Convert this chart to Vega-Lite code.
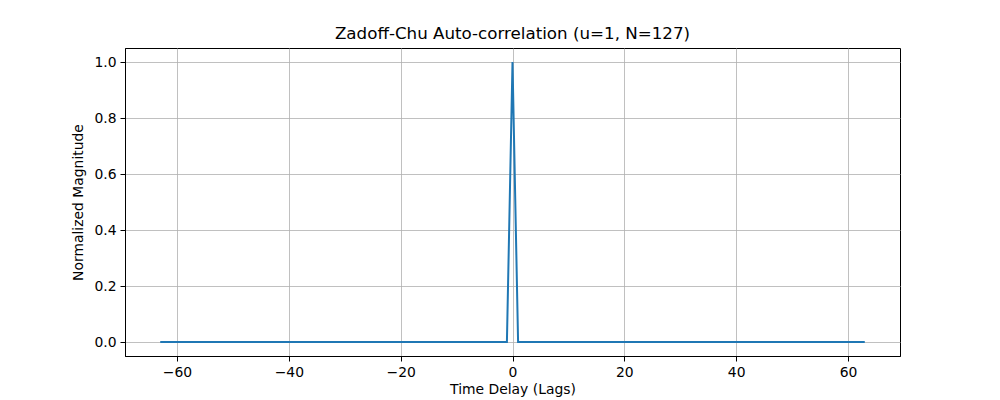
{
  "$schema": "https://vega.github.io/schema/vega-lite/v6.json",
  "width": 775,
  "height": 308,
  "autosize": "none",
  "padding": {"left": 125, "top": 48, "right": 100, "bottom": 44},
  "background": "white",
  "config": {
    "font": "DejaVu Sans",
    "view": {"stroke": "black", "strokeWidth": 1},
    "axis": {
      "domain": true, "domainColor": "black", "domainWidth": 1,
      "tickColor": "black", "tickSize": 5, "tickWidth": 1,
      "labelFontSize": 13.9, "labelColor": "black", "labelPadding": 4,
      "titleFontSize": 13.9, "titleFontWeight": "normal", "titleColor": "black",
      "grid": true, "gridColor": "#b0b0b0", "gridWidth": 0.8
    }
  },
  "title": {
    "text": "Zadoff-Chu Auto-correlation (u=1, N=127)",
    "fontSize": 16.7, "fontWeight": "normal", "color": "black",
    "anchor": "middle", "frame": "group", "offset": 5
  },
  "data": {"values": [
    {"lag": -63, "mag": 0}, {"lag": -62, "mag": 0}, {"lag": -61, "mag": 0}, {"lag": -60, "mag": 0},
    {"lag": -59, "mag": 0}, {"lag": -58, "mag": 0}, {"lag": -57, "mag": 0}, {"lag": -56, "mag": 0},
    {"lag": -55, "mag": 0}, {"lag": -54, "mag": 0}, {"lag": -53, "mag": 0}, {"lag": -52, "mag": 0},
    {"lag": -51, "mag": 0}, {"lag": -50, "mag": 0}, {"lag": -49, "mag": 0}, {"lag": -48, "mag": 0},
    {"lag": -47, "mag": 0}, {"lag": -46, "mag": 0}, {"lag": -45, "mag": 0}, {"lag": -44, "mag": 0},
    {"lag": -43, "mag": 0}, {"lag": -42, "mag": 0}, {"lag": -41, "mag": 0}, {"lag": -40, "mag": 0},
    {"lag": -39, "mag": 0}, {"lag": -38, "mag": 0}, {"lag": -37, "mag": 0}, {"lag": -36, "mag": 0},
    {"lag": -35, "mag": 0}, {"lag": -34, "mag": 0}, {"lag": -33, "mag": 0}, {"lag": -32, "mag": 0},
    {"lag": -31, "mag": 0}, {"lag": -30, "mag": 0}, {"lag": -29, "mag": 0}, {"lag": -28, "mag": 0},
    {"lag": -27, "mag": 0}, {"lag": -26, "mag": 0}, {"lag": -25, "mag": 0}, {"lag": -24, "mag": 0},
    {"lag": -23, "mag": 0}, {"lag": -22, "mag": 0}, {"lag": -21, "mag": 0}, {"lag": -20, "mag": 0},
    {"lag": -19, "mag": 0}, {"lag": -18, "mag": 0}, {"lag": -17, "mag": 0}, {"lag": -16, "mag": 0},
    {"lag": -15, "mag": 0}, {"lag": -14, "mag": 0}, {"lag": -13, "mag": 0}, {"lag": -12, "mag": 0},
    {"lag": -11, "mag": 0}, {"lag": -10, "mag": 0}, {"lag": -9, "mag": 0}, {"lag": -8, "mag": 0},
    {"lag": -7, "mag": 0}, {"lag": -6, "mag": 0}, {"lag": -5, "mag": 0}, {"lag": -4, "mag": 0},
    {"lag": -3, "mag": 0}, {"lag": -2, "mag": 0}, {"lag": -1, "mag": 0}, {"lag": 0, "mag": 1},
    {"lag": 1, "mag": 0}, {"lag": 2, "mag": 0}, {"lag": 3, "mag": 0}, {"lag": 4, "mag": 0},
    {"lag": 5, "mag": 0}, {"lag": 6, "mag": 0}, {"lag": 7, "mag": 0}, {"lag": 8, "mag": 0},
    {"lag": 9, "mag": 0}, {"lag": 10, "mag": 0}, {"lag": 11, "mag": 0}, {"lag": 12, "mag": 0},
    {"lag": 13, "mag": 0}, {"lag": 14, "mag": 0}, {"lag": 15, "mag": 0}, {"lag": 16, "mag": 0},
    {"lag": 17, "mag": 0}, {"lag": 18, "mag": 0}, {"lag": 19, "mag": 0}, {"lag": 20, "mag": 0},
    {"lag": 21, "mag": 0}, {"lag": 22, "mag": 0}, {"lag": 23, "mag": 0}, {"lag": 24, "mag": 0},
    {"lag": 25, "mag": 0}, {"lag": 26, "mag": 0}, {"lag": 27, "mag": 0}, {"lag": 28, "mag": 0},
    {"lag": 29, "mag": 0}, {"lag": 30, "mag": 0}, {"lag": 31, "mag": 0}, {"lag": 32, "mag": 0},
    {"lag": 33, "mag": 0}, {"lag": 34, "mag": 0}, {"lag": 35, "mag": 0}, {"lag": 36, "mag": 0},
    {"lag": 37, "mag": 0}, {"lag": 38, "mag": 0}, {"lag": 39, "mag": 0}, {"lag": 40, "mag": 0},
    {"lag": 41, "mag": 0}, {"lag": 42, "mag": 0}, {"lag": 43, "mag": 0}, {"lag": 44, "mag": 0},
    {"lag": 45, "mag": 0}, {"lag": 46, "mag": 0}, {"lag": 47, "mag": 0}, {"lag": 48, "mag": 0},
    {"lag": 49, "mag": 0}, {"lag": 50, "mag": 0}, {"lag": 51, "mag": 0}, {"lag": 52, "mag": 0},
    {"lag": 53, "mag": 0}, {"lag": 54, "mag": 0}, {"lag": 55, "mag": 0}, {"lag": 56, "mag": 0},
    {"lag": 57, "mag": 0}, {"lag": 58, "mag": 0}, {"lag": 59, "mag": 0}, {"lag": 60, "mag": 0},
    {"lag": 61, "mag": 0}, {"lag": 62, "mag": 0}, {"lag": 63, "mag": 0}
  ]},
  "mark": {"type": "line", "color": "#1f77b4", "strokeWidth": 2, "clip": true},
  "encoding": {
    "x": {
      "field": "lag", "type": "quantitative",
      "scale": {"domain": [-69.3, 69.3], "nice": false, "zero": false},
      "axis": {"title": "Time Delay (Lags)", "values": [-60, -40, -20, 0, 20, 40, 60], "format": "d", "titlePadding": 4}
    },
    "y": {
      "field": "mag", "type": "quantitative",
      "scale": {"domain": [-0.05, 1.05], "nice": false, "zero": false},
      "axis": {"title": "Normalized Magnitude", "values": [0, 0.2, 0.4, 0.6, 0.8, 1.0], "format": ".1f", "titlePadding": 8}
    }
  }
}
